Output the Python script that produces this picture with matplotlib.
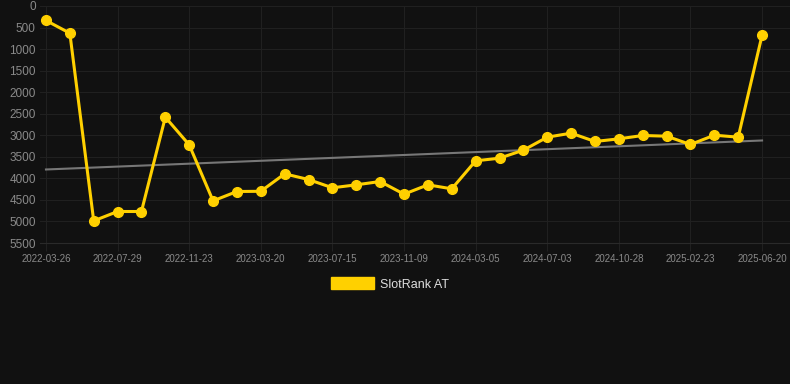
import matplotlib.pyplot as plt
from matplotlib.patches import Patch

plt.rcParams['font.family'] = ['Liberation Sans', 'DejaVu Sans']

# rank values (lower is better), one per sample
ranks = [336, 631, 4986, 4769, 4769, 2580, 3222, 4522, 4305, 4300,
         3895, 4027, 4219, 4150, 4073, 4367, 4150, 4243, 3593, 3532,
         3346, 3044, 2951, 3144, 3083, 3005, 3021, 3214, 2998, 3044,
         677]
tick_labels = ['2022-03-26', '2022-07-29', '2022-11-23', '2023-03-20',
               '2023-07-15', '2023-11-09', '2024-03-05', '2024-07-03',
               '2024-10-28', '2025-02-23', '2025-06-20']
trend = [3794, 3121]
yticks = list(range(0, 5501, 500))

bg = '#111111'
yellow = '#ffd000'
grid = '#202020'
txt = '#8a8a8a'

fig = plt.figure(figsize=(7.9, 3.84), dpi=100, facecolor=bg)
ax = fig.add_axes([40 / 790, 1 - 243 / 384, 750 / 790, 237 / 384])
ax.set_facecolor(bg)

x = list(range(len(ranks)))
ax.plot([x[0], x[-1]], trend, color='#777777', lw=1.5, zorder=2)
ax.plot(x, ranks, color=yellow, lw=2.2, marker='o', ms=7, zorder=3)

ax.set_xlim(-0.25, 31.17)
ax.set_ylim(5500, 0)
ax.set_yticks(yticks)
ax.set_yticklabels([str(v) for v in yticks])
ax.set_xticks(x[::3])
ax.set_xticklabels(tick_labels)

ax.grid(True, color=grid, lw=0.8)
ax.set_axisbelow(True)
for s in ['top', 'right', 'left']:
    ax.spines[s].set_visible(False)
ax.spines['bottom'].set_color('#2a2a2a')
ax.tick_params(axis='y', length=0, pad=3, labelsize=8.5, colors=txt)
ax.tick_params(axis='x', length=6, width=0.8, color=grid, pad=2,
               labelsize=7, colors=txt)

handles = [Patch(facecolor=yellow, edgecolor=yellow, label='SlotRank AT')]
fig.legend(handles=handles, loc='center', bbox_to_anchor=(390 / 790, 1 - 284 / 384),
           frameon=False, fontsize=9, labelcolor='#dddddd',
           handlelength=3.4, handleheight=1.1, handletextpad=0.5)

fig.savefig('out.png', dpi=100, facecolor=bg)
